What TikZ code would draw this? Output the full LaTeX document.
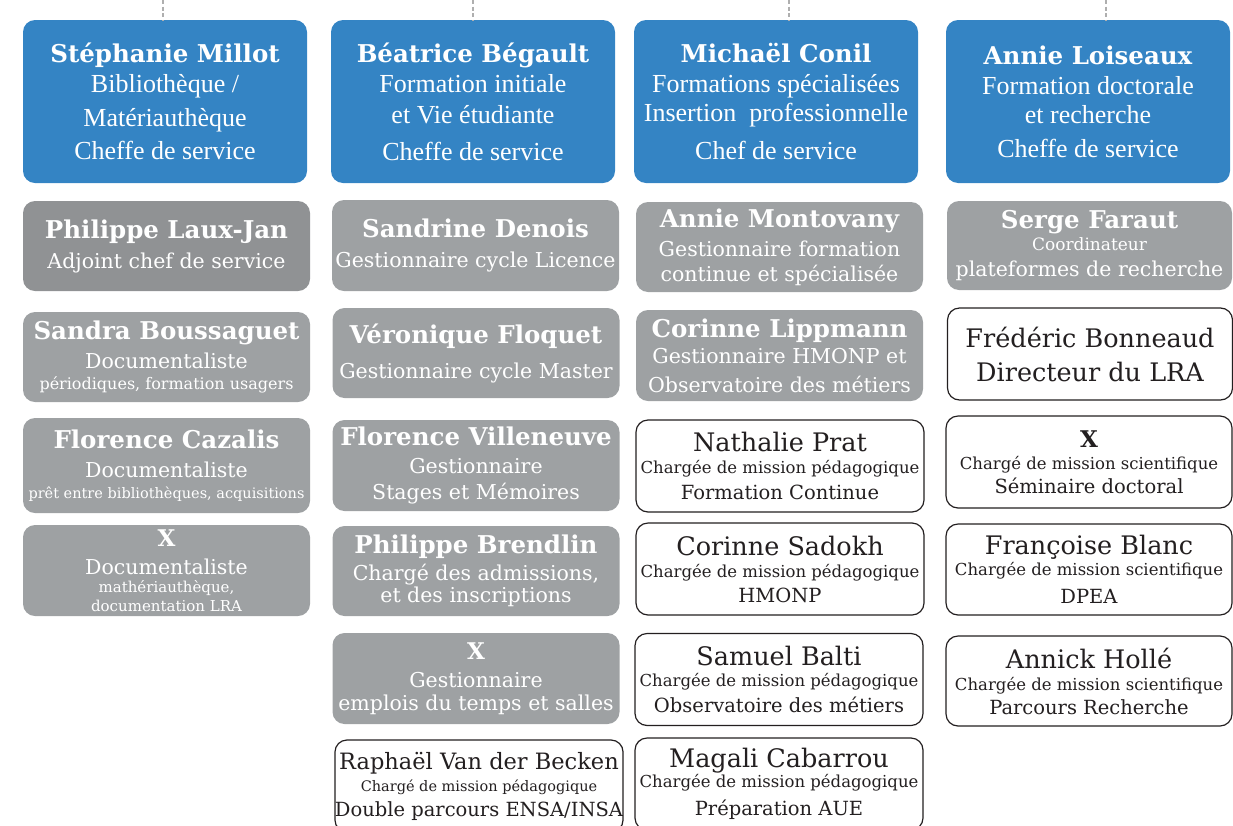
\documentclass[tikz,border=0pt]{standalone}
\usepackage{fontspec}
\setmainfont{Liberation Serif}
\newfontfamily\geo{DejaVu Serif}
\definecolor{chiefblue}{RGB}{52,132,196}
\definecolor{staffgrey}{RGB}{158,161,163}
\definecolor{deputygrey}{RGB}{144,146,148}
\definecolor{inkblack}{RGB}{35,31,32}
\definecolor{linkgrey}{RGB}{175,175,175}
\lineskiplimit=-100pt
% names and function lines
\newcommand{\bname}[2][24.5]{{\geo\bfseries\fontsize{#1}{0}\selectfont #2}}
\newcommand{\wname}[2][25.5]{{\geo\fontsize{#1}{0}\selectfont #2}}
\newcommand{\role}[2][20.5]{{\geo\fontsize{#1}{0}\selectfont #2}}
\newcommand{\brole}[1]{{\fontsize{26}{0}\selectfont #1}}
\tikzset{
  chief/.style={rounded corners=12pt, fill=chiefblue, text=white, minimum width=284pt,
    minimum height=163pt, align=center, inner sep=0pt, font=\fontsize{20}{0}\selectfont},
  staff/.style={rounded corners=12pt, fill=staffgrey, text=white, minimum width=287pt,
    minimum height=91pt, align=center, inner sep=0pt, font=\fontsize{20}{0}\selectfont},
  mission/.style={rounded corners=12pt, draw=inkblack, line width=1.2pt, fill=white, text=inkblack,
    minimum width=288pt, minimum height=92pt, align=center, inner sep=0pt, font=\fontsize{20}{0}\selectfont},
  link/.style={draw=linkgrey, line width=1.6pt, dash pattern=on 4pt off 2.5pt}
}
\begin{document}
\begin{tikzpicture}[x=1pt,y=-1pt]
    \useasboundingbox (0,0) rectangle (1233,825);
    \clip (0,0) rectangle (1233,825);
    % Column 1: bibliotheque
    \node[chief] (lib) at (165,101.5) {\bname{Stéphanie Millot}\\[30pt]\brole{Bibliothèque /}\\[34pt]\brole{Matériauthèque}\\[33pt]\brole{Cheffe de service}};
    \node[staff, fill=deputygrey, minimum height=90pt] (laux) at (166.5,246) {\bname{Philippe Laux-Jan}\\[30pt]\role{Adjoint chef de service}};
    \node[staff, minimum height=90pt] (boussaguet) at (166.5,357) {\bname{Sandra Boussaguet}\\[29pt]\role{Documentaliste}\\[21pt]\role[16]{périodiques, formation usagers}};
    \node[staff, minimum height=95pt] (cazalis) at (166.5,465.5) {\bname{Florence Cazalis}\\[29pt]\role{Documentaliste}\\[21pt]\role[14.5]{prêt entre bibliothèques, acquisitions}};
    \node[staff] (docx) at (166.5,570.5) {\bname[23]{X}\\[28pt]\role{Documentaliste}\\[18pt]\role[15]{mathériauthèque,}\\[19pt]\role[15]{documentation LRA}};
    % Column 2: formation initiale
    \node[chief] (fi) at (473,101.5) {\bname{Béatrice Bégault}\\[30pt]\brole{Formation initiale}\\[31pt]\brole{et Vie étudiante}\\[37pt]\brole{Cheffe de service}};
    \node[staff] (denois) at (475.5,245.5) {\bname{Sandrine Denois}\\[30pt]\role{Gestionnaire cycle Licence}};
    \node[staff, minimum height=90pt] (floquet) at (476,353) {\bname{Véronique Floquet}\\[35pt]\role{Gestionnaire cycle Master}};
    \node[staff] (villeneuve) at (476,465.5) {\bname{Florence Villeneuve}\\[28pt]\role{Gestionnaire}\\[26pt]\role{Stages et Mémoires}};
    \node[staff, minimum height=90pt] (brendlin) at (476,571) {\bname{Philippe Brendlin}\\[27pt]\role{Chargé des admissions,}\\[22pt]\role{et des inscriptions}};
    \node[staff] (gestx) at (476,678.5) {\bname[23]{X}\\[28pt]\role{Gestionnaire}\\[23pt]\role{emplois du temps et salles}};
    \node[mission] (vanderbecken) at (479,786) {\wname[22.5]{Raphaël Van der Becken}\\[22pt]\role[14.5]{Chargé de mission pédagogique}\\[25pt]\role[19.5]{Double parcours ENSA/INSA}};
    % Column 3: formations specialisees
    \node[chief] (fs) at (776,101.5) {\bname{Michaël Conil}\\[30pt]\brole{Formations spécialisées}\\[29pt]\brole{Insertion\ \ professionnelle}\\[38pt]\brole{Chef de service}};
    \node[staff, minimum height=90pt] (montovany) at (779.5,247) {\bname{Annie Montovany}\\[29pt]\role{Gestionnaire formation}\\[25pt]\role{continue et spécialisée}};
    \node[staff] (lippmann) at (779.5,355.5) {\bname{Corinne Lippmann}\\[26pt]\role{Gestionnaire HMONP et}\\[29pt]\role{Observatoire des métiers}};
    \node[mission] (prat) at (780,466) {\wname{Nathalie Prat}\\[22pt]\role[16.5]{Chargée de mission pédagogique}\\[26pt]\role[19.5]{Formation Continue}};
    \node[mission] (sadokh) at (780,569) {\wname{Corinne Sadokh}\\[22pt]\role[16.5]{Chargée de mission pédagogique}\\[25pt]\role[19.5]{HMONP}};
    \node[mission] (balti) at (779,679.5) {\wname{Samuel Balti}\\[21pt]\role[16.5]{Chargée de mission pédagogique}\\[26pt]\role[19.5]{Observatoire des métiers}};
    \node[mission] (cabarrou) at (779,784) {\wname{Magali Cabarrou}\\[20pt]\role[16.5]{Chargée de mission pédagogique}\\[28pt]\role[19.5]{Préparation AUE}};
    % Column 4: formation doctorale
    \node[chief] (doc) at (1088,101.5) {\bname{Annie Loiseaux}\\[30pt]\brole{Formation doctorale}\\[29pt]\brole{et recherche}\\[34pt]\brole{Cheffe de service}};
    \node[staff, minimum width=285pt, minimum height=89pt] (faraut) at (1089.5,245.5) {\bname{Serge Faraut}\\[22pt]\role[17]{Coordinateur}\\[26pt]\role{plateformes de recherche}};
    \node[mission, minimum width=285pt] (bonneaud) at (1090,354) {\wname{Frédéric Bonneaud}\\[34pt]\wname{Directeur du LRA}};
    \node[mission, minimum width=286pt] (chargex) at (1089,462) {\bname[23]{X}\\[22pt]\role[16.5]{Chargé de mission scientifique}\\[24pt]\role[19.5]{Séminaire doctoral}};
    \node[mission, minimum width=286pt, minimum height=91pt] (blanc) at (1089,569.5) {\wname{Françoise Blanc}\\[21pt]\role[16.5]{Chargée de mission scientifique}\\[28pt]\role[19.5]{DPEA}};
    \node[mission, minimum width=286pt, minimum height=90pt] (holle) at (1089,681) {\wname{Annick Hollé}\\[22pt]\role[16.5]{Chargée de mission scientifique}\\[24pt]\role[19.5]{Parcours Recherche}};
    % Links from above
    \coordinate (t1) at (163,0);
    \coordinate (t2) at (473,0);
    \coordinate (t3) at (789,0);
    \coordinate (t4) at (1106,0);
    \draw[link] (t1) -- (t1 |- lib.north);
    \draw[link] (t2) -- (t2 |- fi.north);
    \draw[link] (t3) -- (t3 |- fs.north);
    \draw[link] (t4) -- (t4 |- doc.north);
\end{tikzpicture}
\end{document}
